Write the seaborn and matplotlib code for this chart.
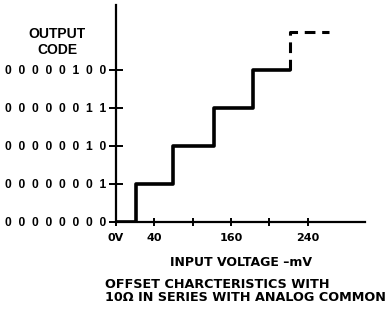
import numpy as np
import pandas as pd
import seaborn as sns
import matplotlib
matplotlib.use('Agg')
import matplotlib.pyplot as plt

# step edges of the transfer curve (mV) and output code levels
step_x = [0, 21, 60, 102, 143, 182]
step_code = [0, 1, 2, 3, 4, 4]
# dashed next step
dash_x = [182, 182, 222]
dash_code = [4, 5, 5]

x_ticks = [0, 40, 80, 120, 160, 200]
x_labels = ["0V", "40", "", "160", "", "240"]
y_ticks = [0, 1, 2, 3, 4]
y_labels = ["00000000", "00000001", "00000010", "00000011", "00000100"]

sns.set_style("white")
plt.rcParams['font.family'] = ['Liberation Sans', 'DejaVu Sans']
plt.rcParams['font.weight'] = 'bold'
plt.rcParams['text.color'] = 'black'
wide = ['DejaVu Sans']

fig = plt.figure(figsize=(3.9, 3.12), dpi=100)
ax = fig.add_axes([116 / 390, (312 - 222) / 312, (365 - 116) / 390, (222 - 5) / 312])

steps = pd.DataFrame({"x": step_x, "code": step_code})
dashed = pd.DataFrame({"x": dash_x, "code": dash_code})

sns.lineplot(data=steps, x="x", y="code", ax=ax, color="black", lw=2.6,
             drawstyle="steps-post", estimator=None, sort=False)
sns.lineplot(data=dashed, x="x", y="code", ax=ax, color="black", lw=2.2,
             estimator=None, sort=False, linestyle=(0, (3.5, 2.2)))

ax.set_xlim(0, 260)
ax.set_ylim(0, 5.7)

for s in ["top", "right"]:
    ax.spines[s].set_visible(False)
for s in ["left", "bottom"]:
    ax.spines[s].set_linewidth(1.6)
    ax.spines[s].set_color("black")

ax.set_xticks(x_ticks)
ax.set_xticklabels(x_labels, fontsize=8, fontweight="bold", family=wide)
ax.set_yticks(y_ticks)
ax.set_yticklabels(["  ".join(l) for l in y_labels], fontsize=8.7, fontweight="bold")
ax.tick_params(axis="x", bottom=True, direction="inout", length=6, width=1.4, pad=5,
               colors="black")
ax.tick_params(axis="y", left=True, direction="inout", length=10, width=1.4, pad=2,
               colors="black")

ax.set_xlabel("INPUT VOLTAGE \u2013mV", fontsize=9, fontweight="bold", family=wide,
              labelpad=9, color="black")
ax.set_ylabel("")

fig.text(57 / 390, 1 - 42 / 312, "OUTPUT\nCODE", ha="center", va="center",
         fontsize=10, fontweight="bold", linespacing=1.15)
fig.text(105 / 390, 1 - 291 / 312, "OFFSET CHARCTERISTICS WITH\n10\u03a9 IN SERIES WITH ANALOG COMMON",
         ha="left", va="center", fontsize=9.2, fontweight="bold", family=wide, linespacing=0.95)

plt.savefig("out.png", dpi=100)
